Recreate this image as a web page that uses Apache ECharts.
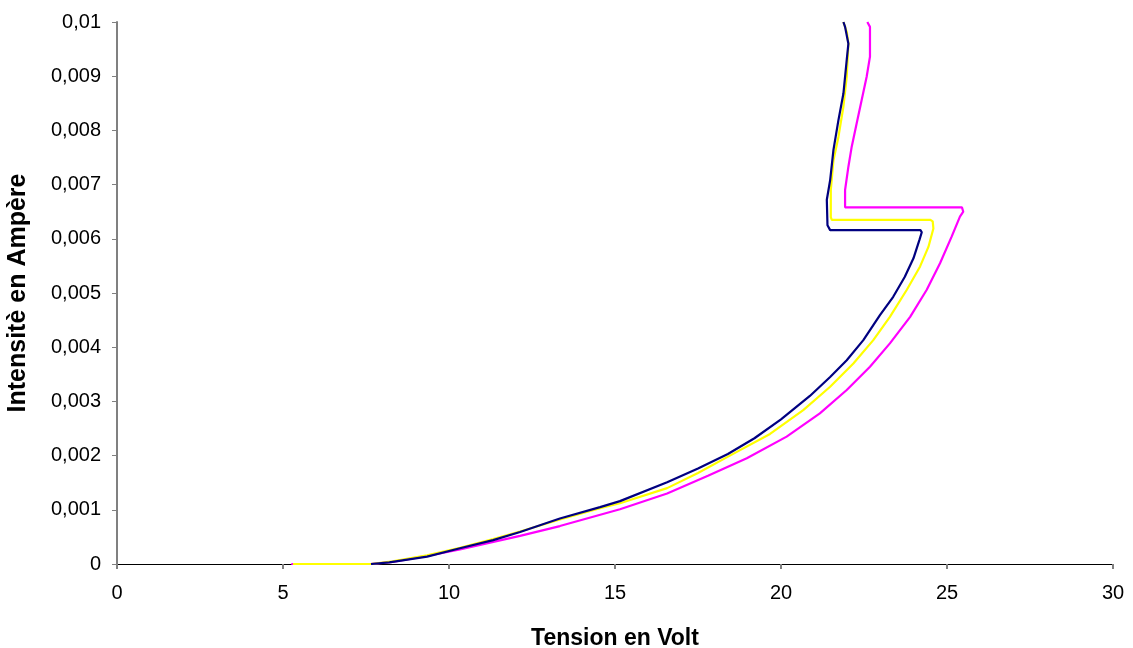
<!DOCTYPE html>
<html>
<head>
<meta charset="utf-8">
<script src="https://cdn.jsdelivr.net/npm/echarts@6/dist/echarts.min.js"></script>
<style>
html,body{margin:0;padding:0;background:#fff;}
#chart{width:1133px;height:648px;}
</style>
</head>
<body>
<div id="chart"></div>
<script>
// Tension (V), Intensité (A) pairs
const navyCurve = [
  [7.65,0],[8.2,0.00003],[9.34,0.000135],[10.33,0.00029],[11.33,0.00044],[12.14,0.00059],
  [13.34,0.00084],[14.55,0.00105],[15.15,0.00116],[16.57,0.00151],[17.5,0.00176],
  [18.4,0.00203],[19.2,0.00232],[20.0,0.00267],[20.87,0.0031],[21.48,0.00345],
  [21.98,0.00376],[22.48,0.00413],[22.98,0.00459],[23.38,0.00493],[23.73,0.0053],
  [23.99,0.00564],[24.17,0.00598],[24.24,0.00612],[24.2,0.00616],[21.48,0.00616],
  [21.4,0.00625],[21.38,0.00672],[21.48,0.00708],[21.58,0.00764],[21.73,0.00819],
  [21.88,0.00868],[21.98,0.0093],[22.03,0.0096],[21.93,0.00991],[21.88,0.01]
];
const yellowCurve = [
  [5.3,0],[7.65,0],[8.3,0.00005],[9.34,0.00016],[10.33,0.0003],[11.33,0.00046],
  [12.14,0.0006],[13.34,0.00082],[14.55,0.00103],[15.15,0.00112],[16.57,0.0014],
  [17.5,0.00168],[18.46,0.002],[19.67,0.0024],[20.67,0.00284],[21.48,0.00327],
  [22.18,0.0037],[22.78,0.00413],[23.28,0.00456],[23.79,0.00506],[24.19,0.00549],
  [24.44,0.00585],[24.59,0.00619],[24.57,0.00632],[24.5,0.00635],[21.53,0.00635],
  [21.5,0.0064],[21.5,0.0069],[21.58,0.00745],[21.73,0.00788],[21.88,0.00844],
  [21.98,0.00899],[22.03,0.0096],[21.98,0.00982],[21.88,0.01]
];
const magentaCurve = [
  [5.25,0],[7.65,0],[8.3,0.00004],[9.34,0.00015],[10.33,0.00027],[12.14,0.00052],
  [13.34,0.0007],[15.15,0.00101],[16.57,0.0013],[17.8,0.00163],[18.97,0.00195],
  [20.17,0.00235],[21.17,0.00278],[21.98,0.00321],[22.68,0.00364],[23.28,0.00407],
  [23.89,0.00456],[24.39,0.00506],[24.79,0.00555],[25.14,0.00604],[25.39,0.00641],
  [25.49,0.0065],[25.45,0.00658],[21.93,0.00658],[21.93,0.0069],[22.03,0.00733],
  [22.13,0.0077],[22.28,0.00813],[22.43,0.00856],[22.58,0.00899],[22.68,0.00936],
  [22.68,0.00991],[22.6,0.01]
];
const xTicks = {min:0, max:30, interval:5};
const yTicks = {min:0, max:0.01, interval:0.001};

const chart = echarts.init(document.getElementById('chart'), null, {renderer:'canvas'});
const font = '"Liberation Sans", Arial, sans-serif';
function line(data, color){
  return {type:'line', data:data, showSymbol:false, symbol:'none', animation:false,
    lineStyle:{color:color, width:2.2}, itemStyle:{color:color}};
}
chart.setOption({
  animation:false,
  backgroundColor:'#fff',
  grid:{left:117, right:20, top:22, bottom:84, containLabel:false, outerBoundsMode:'none'},
  xAxis:{
    type:'value', min:xTicks.min, max:xTicks.max, interval:xTicks.interval,
    name:'Tension en Volt', nameLocation:'middle', nameGap:63,
    nameTextStyle:{fontFamily:font, fontSize:23, fontWeight:'bold', color:'#000'},
    axisLine:{show:true, onZero:false, lineStyle:{color:'#000', width:1}},
    axisTick:{show:true, length:5, lineStyle:{color:'#808080', width:2}},
    axisLabel:{margin:19, fontFamily:font, fontSize:20, color:'#000'},
    splitLine:{show:false}
  },
  yAxis:{
    type:'value', min:yTicks.min, max:yTicks.max, interval:yTicks.interval,
    name:'Intensitè en Ampère', nameLocation:'middle', nameGap:86,
    nameTextStyle:{fontFamily:font, fontSize:25, fontWeight:'bold', color:'#000'},
    axisLine:{show:true, lineStyle:{color:'#808080', width:2}},
    axisTick:{show:true, length:5, lineStyle:{color:'#808080', width:1}},
    axisLabel:{margin:16, fontFamily:font, fontSize:20, color:'#000',
      formatter:function(v){ return String(+v.toFixed(4)).replace('.', ','); }},
    splitLine:{show:false}
  },
  series:[
    line(magentaCurve, '#FF00FF'),
    line(yellowCurve, '#FFFF00'),
    line(navyCurve, '#000080')
  ]
});
</script>
</body>
</html>
